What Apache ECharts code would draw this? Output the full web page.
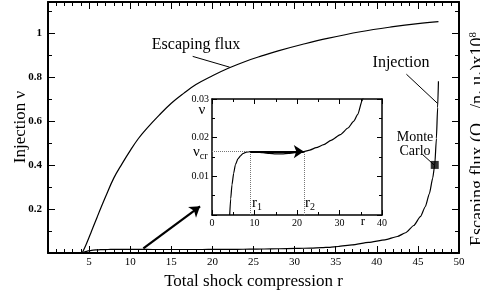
<!DOCTYPE html>
<html>
<head>
<meta charset="utf-8">
<script src="https://cdn.jsdelivr.net/npm/echarts@6/dist/echarts.min.js"></script>
<style>
  html, body { margin: 0; padding: 0; background: #fff; }
  #chart { width: 480px; height: 295px; }
</style>
</head>
<body>
<div id="chart"></div>
<script>
// escaping flux vs total compression r
const escR = [4.16, 4.6, 5.2, 6, 7, 8, 9, 10, 11, 12, 13.5, 15, 16.5, 18, 20, 22, 24, 26, 28, 31, 34, 38, 42, 45, 47.5]
const escF = [0, 0.035, 0.09, 0.165, 0.255, 0.34, 0.405, 0.465, 0.52, 0.565, 0.625, 0.68, 0.725, 0.765, 0.805, 0.84, 0.87, 0.895, 0.918, 0.948, 0.975, 1.005, 1.028, 1.042, 1.051]

// injection efficiency nu vs r (main + inset)
const injR = [4.16, 4.4, 4.7, 5.1, 5.5, 6.1, 6.7, 7.3, 7.9, 9, 10.5, 12, 13.5, 15, 16.5, 18, 19.5, 21.6, 23, 24.5, 26.3, 28, 30.2, 32, 33.3, 34.3, 35.3, 37, 39, 41, 42.5, 43.5, 44.5, 45.3, 45.9, 46.4, 46.8, 47.05, 47.25, 47.4, 47.5]
const injNu = [0, 0.0042, 0.0078, 0.0108, 0.013, 0.0145, 0.0153, 0.0159, 0.0162, 0.0164, 0.0163, 0.0161, 0.0159, 0.0158, 0.0158, 0.0159, 0.0161, 0.0164, 0.0168, 0.0174, 0.0182, 0.0193, 0.0208, 0.0225, 0.0242, 0.026, 0.0295, 0.037, 0.048, 0.06, 0.075, 0.092, 0.125, 0.165, 0.21, 0.27, 0.34, 0.40, 0.52, 0.66, 0.78]

const monteCarlo = [[47.05, 0.40]]

// annotation pointers (data coords)
const escLeader = [[17.6, 0.893], [22.1, 0.844]]
const injLeader = [[43.6, 0.812], [47.37, 0.68]]
const mcLeader = [[45.55, 0.448], [46.97, 0.40]]
const zoomArrow = [[11.6, 0.021], [18.5, 0.212]]

// inset markers
const r1 = 9
const r2 = 21.6
const nuCr = 0.0164

const FONT = '"Liberation Serif", "DejaVu Serif", serif'

const zip = (xs, ys) => xs.map((x, i) => [x, ys[i]])

const chart = echarts.init(document.getElementById('chart'), null, { renderer: 'canvas' })

const tickMain = { show: true, inside: true, length: 7, lineStyle: { color: '#000', width: 1 } }
const minorMain = { show: true, splitNumber: 5, length: 4, lineStyle: { color: '#000', width: 1 } }
const axLineMain = { show: true, onZero: false, lineStyle: { color: '#000', width: 2 } }

const tickIn = { show: true, inside: true, length: 5, lineStyle: { color: '#000', width: 1 } }
const axLineIn = { show: true, onZero: false, lineStyle: { color: '#000', width: 1.5 } }

chart.setOption({
  animation: false,
  backgroundColor: '#fff',
  grid: [
    { left: 48, right: 21, top: 2, bottom: 41 },
    { left: 212, top: 99, width: 170, height: 116, show: true, backgroundColor: '#fff', borderWidth: 0 },
  ],
  xAxis: [
    {
      type: 'value', gridIndex: 0, min: 0, max: 50, interval: 5,
      axisLine: axLineMain, axisTick: tickMain, minorTick: minorMain, splitLine: { show: false },
      axisLabel: { color: '#000', fontFamily: FONT, fontSize: 11, margin: 4, formatter: v => (v === 0 ? '' : v) },
      name: 'Total shock compression r', nameLocation: 'middle', nameGap: 20,
      nameTextStyle: { color: '#000', fontFamily: FONT, fontSize: 17 },
    },
    {
      type: 'value', gridIndex: 0, position: 'top', min: 0, max: 50, interval: 5,
      axisLine: axLineMain, axisTick: tickMain, minorTick: minorMain, splitLine: { show: false },
      axisLabel: { show: false },
    },
    {
      type: 'value', gridIndex: 1, min: 0, max: 40, interval: 10,
      axisLine: axLineIn, axisTick: tickIn, splitLine: { show: false },
      minorTick: { show: true, splitNumber: 2, length: 3, lineStyle: { color: '#000' } },
      axisLabel: { color: '#000', fontFamily: FONT, fontSize: 10, margin: 3 },
    },
    {
      type: 'value', gridIndex: 1, position: 'top', min: 0, max: 40, interval: 10,
      axisLine: axLineIn, axisTick: tickIn, splitLine: { show: false },
      minorTick: { show: true, splitNumber: 2, length: 3, lineStyle: { color: '#000' } },
      axisLabel: { show: false },
    },
  ],
  yAxis: [
    {
      type: 'value', gridIndex: 0, min: 0, max: 1.14, interval: 0.2,
      axisLine: axLineMain, axisTick: tickMain, splitLine: { show: false },
      minorTick: { show: true, splitNumber: 2, length: 4, lineStyle: { color: '#000' } },
      axisLabel: {
        color: '#000', fontFamily: FONT, fontSize: 11, fontWeight: 'bold', margin: 6,
        showMaxLabel: false,
        formatter: v => (v === 0 || v > 1.05 ? '' : +v.toFixed(1)),
      },
    },
    {
      type: 'value', gridIndex: 0, position: 'right', min: 0, max: 1.14, interval: 0.2,
      axisLine: axLineMain, axisTick: tickMain, splitLine: { show: false },
      minorTick: { show: true, splitNumber: 2, length: 4, lineStyle: { color: '#000' } },
      axisLabel: { show: false },
    },
    {
      type: 'value', gridIndex: 1, min: 0, max: 0.03, interval: 0.01,
      axisLine: axLineIn, axisTick: tickIn, splitLine: { show: false },
      minorTick: { show: true, splitNumber: 2, length: 3, lineStyle: { color: '#000' } },
      axisLabel: {
        color: '#000', fontFamily: FONT, fontSize: 10, margin: 3,
        formatter: v => (v === 0 ? '' : +v.toFixed(2)),
      },
    },
    {
      type: 'value', gridIndex: 1, position: 'right', min: 0, max: 0.03, interval: 0.01,
      axisLine: axLineIn, axisTick: tickIn, splitLine: { show: false },
      minorTick: { show: true, splitNumber: 2, length: 3, lineStyle: { color: '#000' } },
      axisLabel: { show: false },
    },
  ],
  series: [
    {
      name: 'Escaping flux', type: 'line', xAxisIndex: 0, yAxisIndex: 0,
      data: zip(escR, escF), smooth: 0.4, showSymbol: false,
      lineStyle: { color: '#000', width: 1.2 },
      markLine: {
        silent: true, symbol: ['none', 'none'], label: { show: false },
        lineStyle: { color: '#000', width: 1, type: 'solid' },
        data: [
          [{ coord: escLeader[0] }, { coord: escLeader[1] }],
          [{ coord: injLeader[0] }, { coord: injLeader[1] }],
          [{ coord: mcLeader[0] }, { coord: mcLeader[1] }],
          [
            { coord: zoomArrow[0], symbol: 'none', lineStyle: { width: 2.2 } },
            { coord: zoomArrow[1], symbol: 'arrow', symbolSize: 10 },
          ],
        ],
      },
    },
    {
      name: 'Injection', type: 'line', xAxisIndex: 0, yAxisIndex: 0,
      data: zip(injR, injNu), smooth: 0.2, smoothMonotone: 'x', showSymbol: false,
      lineStyle: { color: '#000', width: 1.2 },
    },
    {
      name: 'Monte Carlo', type: 'scatter', xAxisIndex: 0, yAxisIndex: 0,
      data: monteCarlo, symbol: 'rect', symbolSize: 8, itemStyle: { color: '#000' }, z: 5,
    },
    {
      name: 'Injection inset', type: 'line', xAxisIndex: 2, yAxisIndex: 2,
      data: zip(injR, injNu), smooth: 0.2, smoothMonotone: 'x', showSymbol: false, clip: true,
      lineStyle: { color: '#000', width: 1.2 },
      markLine: {
        silent: true, symbol: ['none', 'none'], label: { show: false },
        lineStyle: { color: '#777', width: 1, type: 'dotted' },
        data: [
          [{ coord: [0, nuCr] }, { coord: [r1, nuCr] }],
          [{ coord: [r1, 0] }, { coord: [r1, nuCr] }],
          [{ coord: [r2, 0] }, { coord: [r2, nuCr] }],
          [
            { coord: [r1, nuCr], lineStyle: { color: '#000', width: 1.8, type: 'solid' } },
            { coord: [r2, nuCr], symbol: 'arrow', symbolSize: 10 },
          ],
        ],
      },
    },
  ],
  graphic: [
    { type: 'text', x: 21, y: 127, rotation: Math.PI / 2,
      style: { text: 'Injection ν', fontFamily: FONT, fontSize: 17, fill: '#000', align: 'center', verticalAlign: 'middle' } },
    { type: 'text', x: 478, y: 139, rotation: Math.PI / 2,
      style: {
        text: 'Escaping flux (Q{sub|esc}/n{sub|1} u{sub|1})x10{sup|8}',
        fontFamily: FONT, fontSize: 18, fill: '#000', align: 'center', verticalAlign: 'middle',
        rich: {
          sub: { fontFamily: FONT, fontSize: 11, verticalAlign: 'bottom', padding: [10, 0, 0, 0] },
          sup: { fontFamily: FONT, fontSize: 11, verticalAlign: 'top', padding: [0, 0, 10, 0] },
        },
      } },
    { type: 'text', x: 196, y: 45,
      style: { text: 'Escaping flux', fontFamily: FONT, fontSize: 16, fill: '#000', align: 'center', verticalAlign: 'middle' } },
    { type: 'text', x: 401, y: 63,
      style: { text: 'Injection', fontFamily: FONT, fontSize: 16, fill: '#000', align: 'center', verticalAlign: 'middle' } },
    { type: 'text', x: 415, y: 137,
      style: { text: 'Monte', fontFamily: FONT, fontSize: 14, fill: '#000', align: 'center', verticalAlign: 'middle' } },
    { type: 'text', x: 415, y: 151,
      style: { text: 'Carlo', fontFamily: FONT, fontSize: 14, fill: '#000', align: 'center', verticalAlign: 'middle' } },
    { type: 'text', x: 202, y: 110,
      style: { text: 'ν', fontFamily: FONT, fontSize: 15, fill: '#000', align: 'center', verticalAlign: 'middle' } },
    { type: 'text', x: 193, y: 152,
      style: {
        text: 'ν{sub|cr}', fontFamily: FONT, fontSize: 15, fill: '#000', align: 'left', verticalAlign: 'middle',
        rich: { sub: { fontFamily: FONT, fontSize: 10, verticalAlign: 'bottom', padding: [8, 0, 0, 0] } },
      } },
    { type: 'text', x: 252, y: 203,
      style: {
        text: 'r{sub|1}', fontFamily: FONT, fontSize: 15, fill: '#000', align: 'left', verticalAlign: 'middle',
        rich: { sub: { fontFamily: FONT, fontSize: 10, verticalAlign: 'bottom', padding: [8, 0, 0, 0] } },
      } },
    { type: 'text', x: 305, y: 203,
      style: {
        text: 'r{sub|2}', fontFamily: FONT, fontSize: 15, fill: '#000', align: 'left', verticalAlign: 'middle',
        rich: { sub: { fontFamily: FONT, fontSize: 10, verticalAlign: 'bottom', padding: [8, 0, 0, 0] } },
      } },
    { type: 'text', x: 363, y: 222,
      style: { text: 'r', fontFamily: FONT, fontSize: 13, fill: '#000', align: 'center', verticalAlign: 'middle' } },
  ],
})
</script>
</body>
</html>
